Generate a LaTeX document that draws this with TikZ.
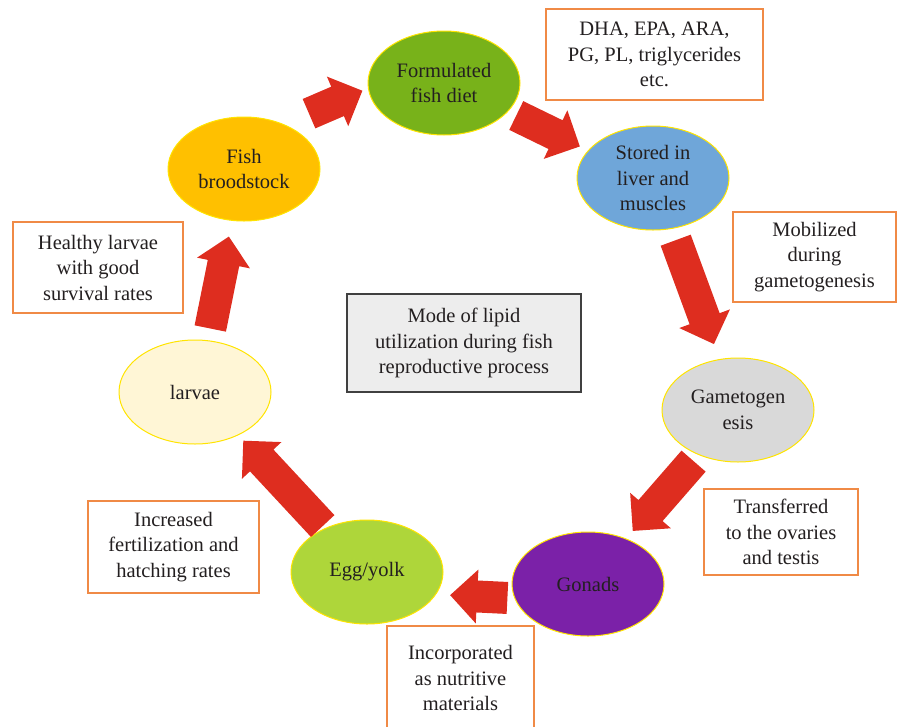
\documentclass[tikz,border=0pt]{standalone}
\usepackage{fontspec}
\setmainfont{Liberation Serif}
\usetikzlibrary{calc,shapes.geometric}
\definecolor{dietgreen}{RGB}{120,178,26}
\definecolor{broodgold}{RGB}{255,192,0}
\definecolor{liverblue}{RGB}{111,166,217}
\definecolor{gametogray}{RGB}{217,217,217}
\definecolor{gonadpurple}{RGB}{123,33,168}
\definecolor{egglime}{RGB}{174,214,58}
\definecolor{larvaecream}{RGB}{255,246,214}
\definecolor{rimyellow}{RGB}{255,228,0}
\definecolor{boxorange}{RGB}{240,138,70}
\definecolor{arrowred}{RGB}{222,45,31}
\definecolor{modefill}{RGB}{237,237,237}
\definecolor{modeline}{RGB}{64,64,64}
\definecolor{textdark}{RGB}{35,31,32}
\newcommand{\diagfont}{\fontsize{20.5}{25.5}\selectfont}
\tikzset{
  stage/.style={ellipse, draw=rimyellow, line width=1pt, minimum width=152pt, minimum height=104pt, align=center, text=textdark, font=\diagfont},
  note/.style={rectangle, draw=boxorange, line width=1.2pt, fill=white, align=center, text=textdark, font=\diagfont},
  bigarrow/.style={fill=arrowred, to path={
      let \p1=(\tikztostart), \p2=(\tikztotarget),
          \n1={atan2(\y2-\y1,\x2-\x1)}, \n2={veclen(\x2-\x1,\y2-\y1)} in
      {[shift={(\p1)}, rotate=\n1]
        (0pt,16pt) -- ({\n2*1pt-27pt},16pt) -- ({\n2*1pt-27pt},27pt) -- ({\n2*1pt},0pt)
        -- ({\n2*1pt-27pt},-27pt) -- ({\n2*1pt-27pt},-16pt) -- (0pt,-16pt) -- cycle}}}
}

\begin{document}
\begin{tikzpicture}[
    x=1pt, y=-1pt,
    modebox/.style={rectangle, draw=modeline, line width=1.2pt, fill=modefill, align=center, text=textdark, font=\diagfont}
  ]
  \useasboundingbox (0,0) rectangle (897,726);

  % cycle stages
  \node[stage, fill=dietgreen] (diet) at (444,83) {Formulated\\fish diet};
  \node[stage, fill=liverblue] (liver) at (653,178) {Stored in\\liver and\\muscles};
  \node[stage, fill=gametogray] (gameto) at (738,410) {Gametogen\\esis};
  \node[stage, fill=gonadpurple] (gonads) at (588,584) {Gonads};
  \node[stage, fill=egglime] (egg) at (367,572) {Egg/yolk};
  \node[stage, fill=larvaecream] (larvae) at (195,392) {larvae};
  \node[stage, fill=broodgold] (brood) at (244,169) {Fish\\broodstock};

  % side notes
  \node[note, minimum width=217pt, minimum height=91pt] (lipids) at (654.5,54.5) {DHA, EPA, ARA,\\PG, PL, triglycerides\\etc.};
  \node[note, minimum width=163pt, minimum height=90pt] (mobilized) at (814.5,257) {Mobilized\\during\\gametogenesis};
  \node[note, minimum width=154pt, minimum height=86pt] (transferred) at (781,532) {Transferred\\to the ovaries\\and testis};
  \node[note, minimum width=147pt, minimum height=104pt] (incorporated) at (460.5,678) {Incorporated\\as nutritive\\materials};
  \node[note, minimum width=171pt, minimum height=92pt] (hatching) at (173.5,547) {Increased\\fertilization and\\hatching rates};
  \node[note, minimum width=170pt, minimum height=91pt] (healthy) at (98,267.5) {Healthy larvae\\with good\\survival rates};

  \node[modebox, minimum width=234pt, minimum height=98pt] (mode) at (464,343) {Mode of lipid\\utilization during fish\\reproductive process};

  % block arrows
  \path[bigarrow] ($(brood.48)!27pt!(diet.184)$) to ($(diet.184)!6pt!(brood.48)$);
  \path[bigarrow] ($(diet.-24)!9pt!(liver.157)$) to ($(liver.157)!9pt!(diet.-24)$);
  \path[bigarrow] ($(liver.-70)!12pt!(gameto.110)$) to ($(gameto.110)!16pt!(liver.-70)$);
  \path[bigarrow] ($(gameto.229)!8pt!(gonads.50)$) to ($(gonads.50)!10pt!(gameto.229)$);
  \path[bigarrow] ($(gonads.191)!7pt!(egg.-18)$) to ($(egg.-18)!14pt!(gonads.191)$);
  \path[bigarrow] ($(egg.134)!3pt!(larvae.-45)$) to ($(larvae.-45)!7pt!(egg.134)$);
  \path[bigarrow] ($(larvae.76)!12pt!(brood.257)$) to ($(brood.257)!16pt!(larvae.76)$);

\end{tikzpicture}
\end{document}
